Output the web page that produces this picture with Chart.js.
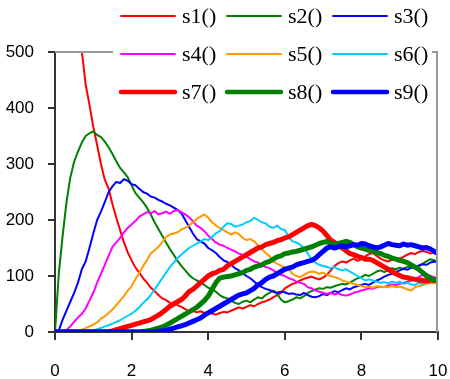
<!DOCTYPE html>
<html><head><meta charset="utf-8">
<script src="https://cdn.jsdelivr.net/npm/chart.js@4.4.1/dist/chart.umd.min.js"></script>
<style>html,body{margin:0;padding:0;background:#fff;}canvas{display:block;}</style>
</head><body>
<canvas id="c" width="450" height="379"></canvas>
<script>
const xValues = [
0,0.1,0.2,0.3,0.4,0.5,0.6,0.7,0.8,0.9,
1,1.1,1.2,1.3,1.4,1.5,1.6,1.7,1.8,1.9,
2,2.1,2.2,2.3,2.4,2.5,2.6,2.7,2.8,2.9,
3,3.1,3.2,3.3,3.4,3.5,3.6,3.7,3.8,3.9,
4,4.1,4.2,4.3,4.4,4.5,4.6,4.7,4.8,4.9,
5,5.1,5.2,5.3,5.4,5.5,5.6,5.7,5.8,5.9,
6,6.1,6.2,6.3,6.4,6.5,6.6,6.7,6.8,6.9,
7,7.1,7.2,7.3,7.4,7.5,7.6,7.7,7.8,7.9,
8,8.1,8.2,8.3,8.4,8.5,8.6,8.7,8.8,8.9,
9,9.1,9.2,9.3,9.4,9.5,9.6,9.7,9.8,9.9,
10];
const s1 = [
null,null,null,null,null,null,556,502,442,406,
366,334,300,272,256,228,204,182,160,142,
128,115,106,96,88,79,73,66,60,57,
52,50,48,45,41,37,38,35,37,34,
36,33,31,34,36,35,38,41,44,42,
45,48,46,50,53,55,58,62,66,70,
78,82,86,88,92,95,97,99,96,94,
97,102,110,118,123,126,124,128,131,127,
130,135,139,141,136,131,128,126,129,132,
131,134,138,141,139,143,145,143,140,142,
138];
const s2 = [
0,105,172,232,276,304,322,338,350,355,
358,352,348,340,330,318,305,293,285,276,
262,248,240,232,222,210,196,184,172,160,
148,138,127,118,110,102,96,92,88,84,
79,76,72,66,62,60,56,52,50,54,
56,53,58,62,60,66,70,74,68,58,
53,55,58,62,60,64,70,73,76,78,
77,80,79,82,84,86,85,88,92,96,
98,102,100,104,108,110,107,111,114,112,
115,113,116,118,115,119,122,126,130,128,
124];
const s3 = [
0,3,22,38,54,70,88,112,126,150,
176,200,215,232,250,260,268,266,273,270,
264,262,256,250,247,242,240,236,233,229,
226,222,218,212,200,188,176,166,162,158,
150,146,141,134,128,125,120,114,110,105,
100,96,90,84,80,77,75,72,70,72,
71,68,69,67,66,70,66,63,62,64,
68,66,70,73,71,75,78,76,80,82,
84,86,84,88,92,95,99,102,104,107,
110,113,111,115,114,118,121,120,124,126,
125];
const s4 = [
0,0,0,3,10,18,26,32,42,56,
70,88,104,120,136,152,160,168,178,186,
192,198,206,210,214,212,216,210,212,215,
211,216,218,214,210,205,198,190,186,180,
172,166,160,156,154,150,147,144,140,138,
134,130,126,124,120,116,114,110,106,102,
100,96,94,90,88,86,80,78,74,72,
70,68,70,67,69,66,65,67,70,72,
74,76,78,77,80,81,80,83,85,84,
86,88,90,92,95,98,102,104,100,98,
96];
const s5 = [
0,0,0,0,0,1,2,4,7,10,
13,17,24,28,34,40,48,56,64,74,
82,94,106,118,128,140,146,152,160,170,
174,176,178,183,186,190,196,202,206,210,
204,196,190,186,182,178,174,178,175,168,
164,166,162,155,148,141,136,126,122,118,
116,112,104,100,98,102,106,108,107,104,
106,102,100,98,96,92,90,88,86,84,
82,80,81,79,82,80,81,80,82,80,
81,79,76,74,80,82,84,86,88,87,
90];
const s6 = [
0,0,0,0,0,0,0,0,1,2,
3,5,7,10,12,15,18,21,25,29,
33,38,44,52,58,66,76,86,96,106,
116,124,132,138,144,150,154,158,162,166,
164,170,176,180,188,194,193,188,190,192,
196,198,204,200,196,194,188,186,190,184,
182,170,162,160,156,150,140,130,124,120,
118,116,114,116,112,110,112,108,104,100,
96,92,94,92,90,88,89,87,90,88,
90,86,88,85,84,88,86,90,92,94,
96];
const s7 = [
0,0,0,0,0,0,0,0,0,0,
0,0,0,0,1,2,4,6,8,10,
12,14,16,18,20,22,26,30,35,40,
46,50,54,58,64,72,76,82,88,94,
100,104,106,110,112,118,122,126,130,134,
138,142,146,150,152,156,158,160,163,165,
168,170,174,178,182,186,190,192,190,186,
180,172,164,160,156,150,145,140,138,135,
133,130,130,128,124,120,116,112,108,104,
101,98,97,95,94,93,92,91,93,92,
94];
const s8 = [
0,0,0,0,0,0,0,0,0,0,
0,0,0,0,0,0,0,0,0,0,
0,0,0,1,2,3,5,7,9,12,
16,20,24,28,32,36,40,44,50,56,
64,76,88,96,98,99,100,102,104,106,
110,112,116,118,120,124,126,130,134,136,
140,141,143,144,146,148,150,152,155,158,
160,162,158,156,158,160,162,160,156,152,
150,148,146,144,142,140,137,135,132,130,
128,126,124,120,116,112,106,100,96,93,
92];
const s9 = [
0,0,0,0,0,0,0,0,0,0,
0,0,0,0,0,0,0,0,0,0,
0,0,0,0,0,0,0,1,2,3,
5,7,9,11,13,16,19,22,25,30,
34,38,42,46,50,54,58,62,66,68,
70,74,78,84,88,94,98,100,104,108,
112,114,116,120,122,124,126,128,132,138,
144,150,152,150,152,154,152,154,156,155,
158,157,154,152,150,152,155,158,156,155,
154,157,155,156,154,152,150,151,148,144,
140];
const seriesLabels = ['s1()','s2()','s3()','s4()','s5()','s6()','s7()','s8()','s9()'];
const seriesValues = [s1,s2,s3,s4,s5,s6,s7,s8,s9];
const seriesColors = ['#FF0000','#008000','#0000FF','#FF00FF','#FF9900','#00CCFF','#FF0000','#008000','#0000FF'];
const seriesWidths = [2,2,2,2,2,2,5,5,5];
const xTicks = [0,2,4,6,8,10];
const yTicks = [0,100,200,300,400,500];

const datasets = seriesValues.map((vals,i)=>({
  label: seriesLabels[i],
  data: xValues.map((x,j)=>({x:x,y:vals[j]})),
  borderColor: seriesColors[i],
  backgroundColor: seriesColors[i],
  borderWidth: seriesWidths[i],
  pointRadius: 0,
  tension: 0,
  fill: false,
  borderJoinStyle: 'round',
  borderCapStyle: 'round',
  order: 8 - i
}));

const frameLegend = {
  id: 'frameLegend',
  afterDraw(chart){
    const ctx = chart.ctx, a = chart.chartArea;
    ctx.save();
    ctx.strokeStyle = '#999';
    ctx.lineWidth = 2;
    ctx.beginPath();
    ctx.moveTo(a.left, a.top);
    ctx.lineTo(a.right-1, a.top);
    ctx.lineTo(a.right-1, a.bottom);
    ctx.stroke();
    ctx.fillStyle = '#fff';
    ctx.fillRect(113, 0, 319, 112);
    chart.data.datasets.forEach((ds,i)=>{
      const col = i % 3, row = Math.floor(i/3);
      const x0 = 121 + col*106, y = 16 + row*38;
      ctx.strokeStyle = ds.borderColor;
      ctx.lineWidth = i >= 6 ? 4.5 : 1.8;
      ctx.lineCap = 'round';
      ctx.beginPath();
      ctx.moveTo(x0, y);
      ctx.lineTo(x0+54, y);
      ctx.stroke();
      ctx.fillStyle = '#000';
      ctx.font = '22px "Liberation Serif", "Times New Roman", serif';
      ctx.textBaseline = 'middle';
      ctx.textAlign = 'left';
      ctx.fillText(ds.label, x0+61, y+1);
    });
    ctx.restore();
  }
};

new Chart(document.getElementById('c'), {
  type: 'line',
  data: { datasets: datasets },
  options: {
    responsive: false,
    animation: false,
    devicePixelRatio: 1,
    layout: { padding: { top: 52, right: 12, left: 0, bottom: 0 } },
    plugins: { legend: { display: false }, tooltip: { enabled: false } },
    scales: {
      x: {
        type: 'linear', min: 0, max: 10,
        afterBuildTicks: s => { s.ticks = xTicks.map(v=>({value:v})); },
        afterFit: s => { s.height = 47; s.paddingLeft = 0; s.paddingRight = 0; },
        border: { color: '#333', width: 2 },
        grid: { drawOnChartArea: false, tickLength: 8, color: '#333', lineWidth: 2 },
        ticks: { color: '#000', padding: 21, maxRotation: 0, font: { family: '"Liberation Sans", Arial, sans-serif', size: 17 } }
      },
      y: {
        type: 'linear', min: 0, max: 500,
        afterBuildTicks: s => { s.ticks = yTicks.map(v=>({value:v})); },
        afterFit: s => { s.width = 55; s.paddingTop = 0; s.paddingBottom = 0; },
        border: { color: '#333', width: 2 },
        grid: { drawOnChartArea: false, tickLength: 7, color: '#333', lineWidth: 2 },
        ticks: { color: '#000', padding: 14, font: { family: '"Liberation Sans", Arial, sans-serif', size: 17 } }
      }
    }
  },
  plugins: [frameLegend]
});
</script>
</body></html>
